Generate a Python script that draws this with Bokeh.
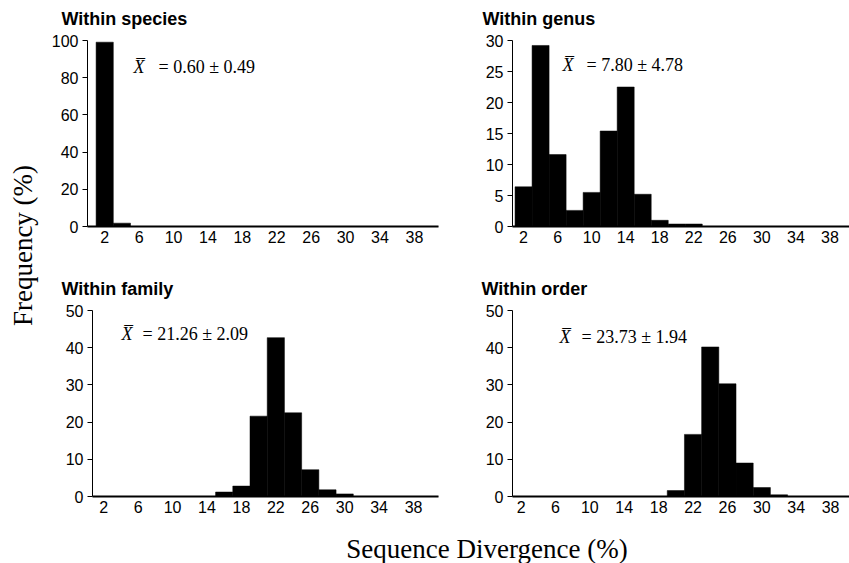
import math
from bokeh.plotting import figure
from bokeh.layouts import row, column
from bokeh.models import Range1d, FixedTicker, Label, ColumnDataSource
from bokeh.embed import file_html
from bokeh.resources import INLINE
from bokeh.core.properties import value

# ---------------- data ----------------
bins = [2, 4, 6, 8, 10, 12, 14, 16, 18, 20, 22, 24, 26, 28, 30, 32, 34, 36, 38, 40]
species = [99.1, 1.8, 0, 0, 0, 0, 0, 0, 0, 0, 0, 0, 0, 0, 0, 0, 0, 0, 0, 0]
genus = [6.4, 29.2, 11.6, 2.6, 5.5, 15.4, 22.5, 5.2, 1.0, 0.4, 0.4, 0, 0, 0, 0, 0, 0, 0, 0, 0]
family = [0, 0, 0, 0, 0, 0, 0, 1.2, 2.8, 21.6, 42.7, 22.5, 7.2, 1.8, 0.7, 0, 0, 0, 0, 0]
order = [0, 0, 0, 0, 0, 0, 0, 0, 0, 1.6, 16.7, 40.2, 30.3, 9.0, 2.4, 0.45, 0, 0, 0, 0]

x_ticks = [2, 6, 10, 14, 18, 22, 26, 30, 34, 38]
titles = ["Within species", "Within genus", "Within family", "Within order"]
mean_texts = ["= 0.60 \u00b1 0.49", "=  7.80 \u00b1 4.78", "= 21.26 \u00b1 2.09", "= 23.73 \u00b1 1.94"]
y_max = [100, 30, 50, 50]
y_step = [20, 5, 10, 10]
x_label = "Sequence Divergence (%)"
y_label = "Frequency (%)"

SANS = "Liberation Sans"
SERIF = "Liberation Serif"


def make_panel(vals, mean_text, ymax, ystep, width, height, mbl, mbr, mbt, mbb,
               xr, x_dx, eq_dx, mean_dy):
    src = ColumnDataSource(dict(x=bins, top=vals))
    p = figure(width=width, height=height, output_backend="svg", toolbar_location=None,
               x_range=Range1d(*xr), y_range=Range1d(0, ymax),
               min_border_left=mbl, min_border_right=mbr,
               min_border_top=mbt, min_border_bottom=mbb)
    p.vbar(x="x", top="top", width=2, bottom=0, source=src,
           fill_color="black", line_color="black", line_width=0.5)
    p.outline_line_color = None
    p.grid.visible = False
    p.background_fill_color = "white"
    p.border_fill_color = "white"

    xa = p.xaxis[0]
    xa.ticker = FixedTicker(ticks=x_ticks)
    xa.axis_line_width = 2
    xa.axis_line_color = "black"
    xa.major_tick_out = 0
    xa.major_tick_in = 0
    xa.minor_tick_out = 0
    xa.minor_tick_in = 0
    xa.major_label_standoff = 4
    xa.major_label_text_font = SANS
    xa.major_label_text_font_size = "16px"
    xa.major_label_text_color = "black"

    ya = p.yaxis[0]
    ya.ticker = FixedTicker(ticks=list(range(0, ymax + 1, ystep)))
    ya.axis_line_width = 1
    ya.axis_line_color = "black"
    ya.major_tick_out = 5
    ya.major_tick_in = 0
    ya.major_tick_line_color = "black"
    ya.minor_tick_out = 0
    ya.minor_tick_in = 0
    ya.major_label_standoff = 4
    ya.major_label_text_font = SANS
    ya.major_label_text_font_size = "16px"
    ya.major_label_text_color = "black"

    fh = height - mbt - mbb
    p.add_layout(Label(x=x_dx, y=fh - mean_dy, x_units="screen", y_units="screen",
                       text="X\u0305", text_font=SERIF, text_font_style="italic",
                       text_font_size="18px", text_color="black",
                       text_baseline="alphabetic", text_align="left"))
    p.add_layout(Label(x=eq_dx, y=fh - mean_dy, x_units="screen", y_units="screen",
                       text=mean_text, text_font=SERIF,
                       text_font_size="18px", text_color="black",
                       text_baseline="alphabetic", text_align="left"))
    return p


def strip(width, height, xr, yr):
    s = figure(width=width, height=height, output_backend="svg", toolbar_location=None,
               x_range=Range1d(*xr), y_range=Range1d(*yr),
               min_border=0, min_border_left=0, min_border_right=0,
               min_border_top=0, min_border_bottom=0)
    s.axis.visible = False
    s.grid.visible = False
    s.outline_line_color = None
    return s


# panels (frame tops at 40 and 310, frame bottoms at 226 and 496)
p1 = make_panel(species, mean_texts[0], y_max[0], y_step[0],
                395, 232, 42, 2, 10, 36, (0.0, 40.8), 46, 71, 26)
p2 = make_panel(genus, mean_texts[1], y_max[1], y_step[1],
                409, 232, 72, 0, 10, 36, (0.7, 40.3), 50, 74, 24)
p3 = make_panel(family, mean_texts[2], y_max[2], y_step[2],
                395, 228, 47, 2, 10, 32, (0.7, 40.9), 29, 50, 23)
p4 = make_panel(order, mean_texts[3], y_max[3], y_step[3],
                409, 228, 72, 0, 10, 32, (1.0, 40.2), 47, 69, 26)

# title strips
t_top = strip(804, 30, (45, 849), (0, 30))
t_top.text(x=[61, 482], y=[12, 12], text=[titles[0], titles[1]],
           text_font=value(SANS), text_font_style="bold", text_font_size="18px",
           text_color="black", text_align="left", text_baseline="middle")
t_bot = strip(804, 38, (45, 849), (0, 38))
t_bot.text(x=[61, 481], y=[12, 12], text=[titles[2], titles[3]],
           text_font=value(SANS), text_font_style="bold", text_font_size="18px",
           text_color="black", text_align="left", text_baseline="middle")

left = strip(45, 563, (0, 45), (0, 563))
left.text(x=[22], y=[563 - 245], text=[y_label], angle=math.pi / 2,
          text_font=value(SERIF), text_font_size="27px", text_color="black",
          text_align="center", text_baseline="middle")

bottom = strip(804, 35, (45, 849), (0, 35))
bottom.text(x=[486.5], y=[15], text=[x_label],
            text_font=value(SERIF), text_font_size="27px", text_color="black",
            text_align="center", text_baseline="middle")

layout = row(left, column(t_top, row(p1, p2), t_bot, row(p3, p4), bottom))

open("out.html", "w").write(file_html(layout, INLINE))
